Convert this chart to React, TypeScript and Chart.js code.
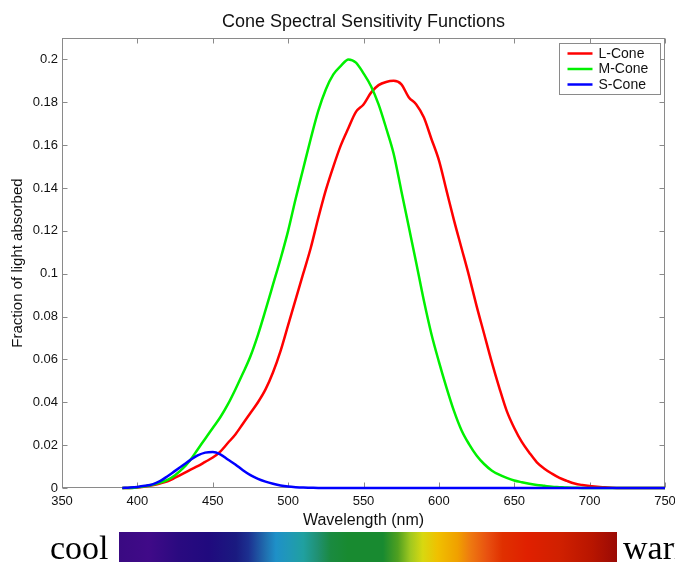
import React, { useEffect, useRef } from 'react';
import { Chart, registerables } from 'chart.js';

Chart.register(...registerables);

const TITLE = 'Cone Spectral Sensitivity Functions';
const X_TITLE = 'Wavelength (nm)';
const Y_TITLE = 'Fraction of light absorbed';

const WAVELENGTHS = [
  390, 395, 400, 405, 410, 415, 420, 425, 430, 435, 440, 445, 450, 455, 460, 465, 470, 475, 480, 485,
  490, 495, 500, 505, 510, 515, 520, 525, 530, 535, 540, 545, 550, 555, 560, 565, 570, 575, 580, 585,
  590, 595, 600, 605, 610, 615, 620, 625, 630, 635, 640, 645, 650, 655, 660, 665, 670, 675, 680, 685,
  690, 695, 700, 705, 710, 715, 720, 725, 730, 735, 740, 745, 750,
];

const L_CONE = [
  0, 0, 0.0002, 0.0007, 0.0013, 0.0021, 0.0031, 0.0048, 0.0066, 0.0085, 0.0102, 0.0122, 0.0142, 0.017, 0.021, 0.025, 0.03, 0.035, 0.04, 0.046,
  0.054, 0.064, 0.076, 0.088, 0.1, 0.112, 0.126, 0.139, 0.15, 0.16, 0.168, 0.1755, 0.179, 0.1845, 0.188, 0.1895, 0.19, 0.1885, 0.1824, 0.179,
  0.173, 0.163, 0.153, 0.139, 0.125, 0.112, 0.099, 0.085, 0.072, 0.059, 0.047, 0.036, 0.028, 0.0215, 0.0165, 0.012, 0.009, 0.0067, 0.0047, 0.0033,
  0.0021, 0.0014, 0.0009, 0.0006, 0.0003, 0.0001, 0, 0, 0, 0, 0, 0, 0,
];

const M_CONE = [
  0, 0, 0.0003, 0.0008, 0.0015, 0.0025, 0.0038, 0.006, 0.009, 0.013, 0.018, 0.023, 0.028, 0.033, 0.039, 0.046, 0.0535, 0.0615, 0.0715, 0.083,
  0.095, 0.107, 0.12, 0.135, 0.149, 0.163, 0.176, 0.186, 0.193, 0.197, 0.2, 0.1985, 0.1935, 0.1875, 0.179, 0.168, 0.156, 0.139, 0.122, 0.105,
  0.0876, 0.072, 0.059, 0.047, 0.036, 0.027, 0.0205, 0.0152, 0.0112, 0.0082, 0.0062, 0.0047, 0.0035, 0.0027, 0.002, 0.0014, 0.001, 0.0006, 0.0004, 0.0002,
  0.0001, 0, 0, 0, 0, 0, 0, 0, 0, 0, 0, 0, 0,
];

const S_CONE = [
  0, 0.0002, 0.0005, 0.001, 0.0017, 0.0032, 0.0055, 0.008, 0.0105, 0.013, 0.0152, 0.0165, 0.0168, 0.0157, 0.0133, 0.011, 0.0083, 0.006, 0.0043, 0.003,
  0.002, 0.0012, 0.0007, 0.0004, 0.0002, 0.0001, 0, 0, 0, 0, 0, 0, 0, 0, 0, 0, 0, 0, 0, 0,
  0, 0, 0, 0, 0, 0, 0, 0, 0, 0, 0, 0, 0, 0, 0, 0, 0, 0, 0, 0,
  0, 0, 0, 0, 0, 0, 0, 0, 0, 0, 0, 0, 0,
];

const SERIES_LABELS = ['L-Cone', 'M-Cone', 'S-Cone'];
const SERIES_COLORS = ['#ff0000', '#00f000', '#0000ff'];

const X_TICKS = [350, 400, 450, 500, 550, 600, 650, 700, 750];
const Y_TICKS = [0, 0.02, 0.04, 0.06, 0.08, 0.1, 0.12, 0.14, 0.16, 0.18, 0.2];
const Y_TICK_LABELS = ['0', '0.02', '0.04', '0.06', '0.08', '0.1', '0.12', '0.14', '0.16', '0.18', '0.2'];

const FONT = '"Liberation Sans", Arial, Helvetica, sans-serif';
const AXIS_COLOR = '#8a8a8a';
const TEXT_COLOR = '#111111';

const framePlugin = {
  id: 'matlabFrame',
  beforeDatasetsDraw(chart: any) {
    const { ctx, chartArea: a, scales } = chart;
    const L = Math.round(a.left) + 0.5;
    const R = Math.round(a.right) - 0.5;
    const T = Math.round(a.top) + 0.5;
    const B = Math.round(a.bottom) - 0.5;
    ctx.save();
    ctx.strokeStyle = AXIS_COLOR;
    ctx.lineWidth = 1;
    ctx.strokeRect(L, T, R - L, B - T);
    const len = 5;
    ctx.beginPath();
    scales.x.ticks.forEach((t: any) => {
      const px = Math.round(scales.x.getPixelForValue(t.value)) + 0.5;
      ctx.moveTo(px, B);
      ctx.lineTo(px, B - len);
      ctx.moveTo(px, T);
      ctx.lineTo(px, T + len);
    });
    scales.y.ticks.forEach((t: any) => {
      const py = Math.round(scales.y.getPixelForValue(t.value)) + 0.5;
      ctx.moveTo(L, py);
      ctx.lineTo(L + len, py);
      ctx.moveTo(R, py);
      ctx.lineTo(R - len, py);
    });
    ctx.stroke();
    ctx.restore();
  },
};

const titlePlugin = {
  id: 'matlabTitle',
  afterDraw(chart: any) {
    const { ctx, chartArea: a } = chart;
    ctx.save();
    ctx.font = `18px ${FONT}`;
    ctx.fillStyle = TEXT_COLOR;
    ctx.textAlign = 'center';
    ctx.textBaseline = 'alphabetic';
    ctx.fillText(TITLE, (a.left + a.right) / 2, 27);
    ctx.restore();
  },
};

const legendPlugin = {
  id: 'matlabLegend',
  afterDatasetsDraw(chart: any) {
    const { ctx, chartArea: a } = chart;
    const items = chart.data.datasets.map((d: any) => ({ label: d.label, color: d.borderColor }));
    ctx.save();
    ctx.font = `14px ${FONT}`;
    const textW = Math.max(...items.map((it: any) => ctx.measureText(it.label).width));
    const padL = 8;
    const lineLen = 25;
    const gap = 6;
    const padR = 12;
    const rowH = 15.5;
    const w = Math.round(padL + lineLen + gap + textW + padR);
    const h = Math.round(rowH * items.length + 4);
    const x = Math.round(a.right - 5 - w) + 0.5;
    const y = Math.round(a.top + 5) + 0.5;
    ctx.fillStyle = '#ffffff';
    ctx.fillRect(x, y, w, h);
    ctx.strokeStyle = AXIS_COLOR;
    ctx.lineWidth = 1;
    ctx.strokeRect(x, y, w, h);
    items.forEach((it: any, i: number) => {
      const cy = y + 10 + i * rowH;
      ctx.strokeStyle = it.color;
      ctx.lineWidth = 2.5;
      ctx.beginPath();
      ctx.moveTo(x + padL, cy);
      ctx.lineTo(x + padL + lineLen, cy);
      ctx.stroke();
      ctx.fillStyle = TEXT_COLOR;
      ctx.textAlign = 'left';
      ctx.textBaseline = 'middle';
      ctx.fillText(it.label, x + padL + lineLen + gap, cy + 0.5);
    });
    ctx.restore();
  },
};

function toPoints(values: number[]) {
  return WAVELENGTHS.map((w, i) => ({ x: w, y: values[i] }));
}

export default function App() {
  const canvasRef = useRef<HTMLCanvasElement | null>(null);

  useEffect(() => {
    if (!canvasRef.current) return;
    const series = [L_CONE, M_CONE, S_CONE];
    const chart = new Chart(canvasRef.current, {
      type: 'line',
      data: {
        datasets: series.map((vals, i) => ({
          label: SERIES_LABELS[i],
          data: toPoints(vals),
          borderColor: SERIES_COLORS[i],
          backgroundColor: SERIES_COLORS[i],
          borderWidth: 2.5,
          pointRadius: 0,
          fill: false,
          cubicInterpolationMode: 'monotone' as const,
          clip: false as any,
          order: 2 - i,
        })),
      },
      options: {
        responsive: false,
        animation: false,
        devicePixelRatio: 1,
        layout: { padding: { top: 38, right: 10, left: 0, bottom: 0 } },
        plugins: {
          legend: { display: false },
          title: { display: false },
          tooltip: { enabled: false },
        },
        scales: {
          x: {
            type: 'linear',
            min: 350,
            max: 750,
            afterBuildTicks: (scale: any) => {
              scale.ticks = X_TICKS.map((v) => ({ value: v }));
            },
            afterFit: (scale: any) => {
              scale.height = 42;
              scale.paddingLeft = 0;
              scale.paddingRight = 0;
            },
            grid: { display: false, drawTicks: false },
            border: { display: false },
            ticks: {
              padding: 6,
              color: TEXT_COLOR,
              font: { family: FONT, size: 13 },
              maxRotation: 0,
              autoSkip: false,
              callback: (v: any) => String(v),
            },
            title: {
              display: true,
              text: X_TITLE,
              color: TEXT_COLOR,
              font: { family: FONT, size: 16 },
              padding: { top: 0, bottom: 0 },
            },
          },
          y: {
            type: 'linear',
            min: 0,
            max: 0.21,
            afterBuildTicks: (scale: any) => {
              scale.ticks = Y_TICKS.map((v) => ({ value: v }));
            },
            afterFit: (scale: any) => {
              scale.width = 62;
              scale.paddingTop = 0;
              scale.paddingBottom = 0;
            },
            grid: { display: false, drawTicks: false },
            border: { display: false },
            ticks: {
              padding: 4,
              color: TEXT_COLOR,
              font: { family: FONT, size: 13 },
              autoSkip: false,
              callback: (v: any) => {
                const idx = Y_TICKS.findIndex((t) => Math.abs(t - Number(v)) < 1e-9);
                return idx >= 0 ? Y_TICK_LABELS[idx] : '';
              },
            },
            title: {
              display: true,
              text: Y_TITLE,
              color: TEXT_COLOR,
              font: { family: FONT, size: 15 },
              padding: { top: 9, bottom: 0 },
            },
          },
        },
      },
      plugins: [framePlugin, legendPlugin, titlePlugin],
    });
    return () => {
      chart.destroy();
    };
  }, []);

  const spectrum =
    'linear-gradient(to right, #3a0a82 0%, #400a88 6%, #2a0a80 12%, #200a7e 18%, #1a1a80 23.5%, #1c3090 26%, #2070b0 29.5%, #1e90c8 31.5%, #2098b8 34%, #20a0a0 37%, #209070 40%, #1a8a40 42.5%, #188a30 46%, #188a30 53%, #50a020 56%, #a0c820 58.5%, #d8d810 61%, #f0c000 64%, #f0a000 68%, #ee7a10 70.5%, #e85010 74%, #e03000 77%, #e02000 82%, #d02000 88.5%, #b81500 95%, #9a0a05 100%)';

  return (
    <div
      style={{
        position: 'absolute',
        left: 0,
        top: 0,
        width: 675,
        height: 562,
        overflow: 'hidden',
        background: '#ffffff',
      }}
    >
      <canvas
        ref={canvasRef}
        width={675}
        height={530}
        style={{ position: 'absolute', left: 0, top: 0, width: 675, height: 530 }}
      />
      <div
        style={{
          position: 'absolute',
          left: 119,
          top: 532,
          width: 498,
          height: 40,
          background: spectrum,
        }}
      />
      <span
        style={{
          position: 'absolute',
          left: 50,
          top: 531,
          fontFamily: '"Liberation Serif", "Times New Roman", serif',
          fontSize: 34,
          lineHeight: '34px',
          color: '#000',
          whiteSpace: 'nowrap',
        }}
      >
        cool
      </span>
      <span
        style={{
          position: 'absolute',
          left: 623,
          top: 531,
          fontFamily: '"Liberation Serif", "Times New Roman", serif',
          fontSize: 34,
          lineHeight: '34px',
          color: '#000',
          whiteSpace: 'nowrap',
        }}
      >
        warm
      </span>
    </div>
  );
}
